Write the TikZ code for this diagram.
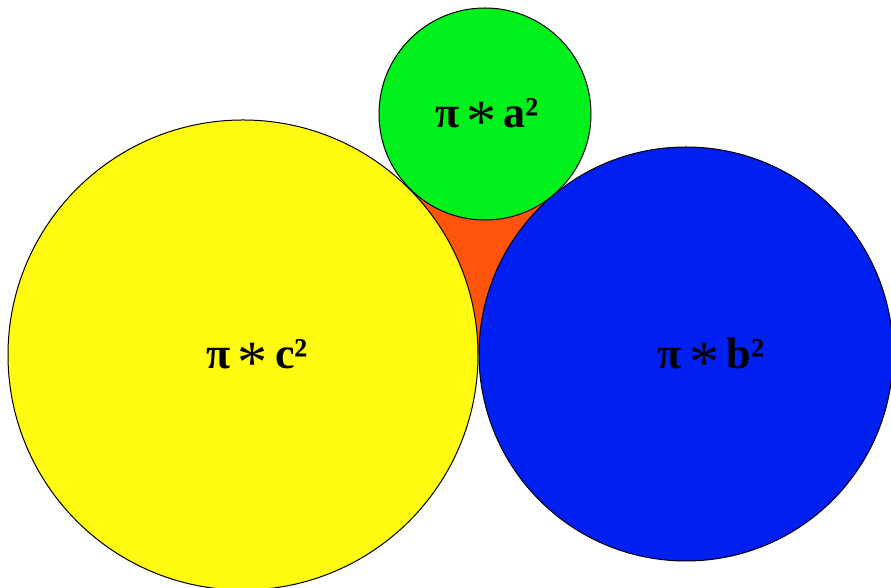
\documentclass[tikz,border=0pt]{standalone}
\usepackage{fontspec}
\setmainfont{Liberation Serif}
\usepackage{tikz}
\usetikzlibrary{calc,positioning}

\definecolor{discyellow}{RGB}{255,250,16}
\definecolor{discgreen}{RGB}{0,240,28}
\definecolor{discblue}{RGB}{0,32,242}
\definecolor{gaporange}{RGB}{255,84,10}

\tikzset{
  disc/.style={draw=black, line width=0.5pt},
  area/.style={font=\fontsize{22}{26}\selectfont\bfseries, inner sep=0pt},
}
\newcommand{\areastar}{\raisebox{-0.32em}{\fontsize{30}{30}\selectfont\mdseries *}}

\begin{document}
\begin{tikzpicture}[x=0.5pt, y=0.5pt]

\useasboundingbox (0,0) rectangle (891,588);
\clip (0,0) rectangle (891,588);

% ---- Centres of the three touching discs ----
\coordinate (cYel) at (243, 233);
\coordinate (cGrn) at (485, 474);
\coordinate (cBlu) at (686, 234);

% ---- Gap between the discs (triangle of centres, covered by the discs) ----
\fill[gaporange] (cYel) -- (cGrn) -- (cBlu) -- cycle;

% ---- Discs ----
\draw[disc, fill=discyellow] (cYel) circle[radius=235];
\draw[disc, fill=discblue]   (cBlu) circle[radius=207];
\draw[disc, fill=discgreen]  (cGrn) circle[radius=106];

% ---- Area labels ----
\node[area] (labA) at ($(cGrn)+(2, -6)$)   {π\,\areastar\,a²};
\node[area] (labC) at ($(cYel)+(14, -6)$)  {π\,\areastar\,c²};
\node[area] (labB) at ($(cBlu)+(25, -6)$)  {π\,\areastar\,b²};

\end{tikzpicture}
\end{document}
